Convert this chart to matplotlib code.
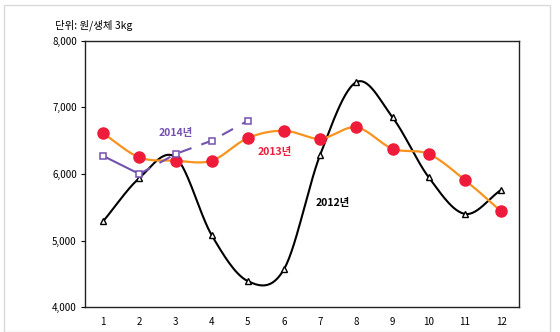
import numpy as np
import matplotlib.pyplot as plt
from matplotlib.patches import Rectangle

plt.rcParams['font.family'] = ['Noto Sans CJK KR', 'DejaVu Sans']

months = list(range(1, 13))
y2012 = [5290, 5940, 6250, 5080, 4390, 4570, 6290, 7380, 6850, 5950, 5400, 5760]
y2013 = [6610, 6250, 6200, 6200, 6540, 6650, 6530, 6700, 6380, 6300, 5910, 5440]
months_2014 = [1, 2, 3, 4, 5]
y2014 = [6270, 6000, 6300, 6500, 6800]
yticks = [4000, 5000, 6000, 7000, 8000]


# smoothed line like excel (catmull-rom through the points)
def smooth(x, y, n=30):
    x = np.asarray(x, float)
    y = np.asarray(y, float)
    px = np.concatenate([[2 * x[0] - x[1]], x, [2 * x[-1] - x[-2]]])
    py = np.concatenate([[2 * y[0] - y[1]], y, [2 * y[-1] - y[-2]]])
    xs, ys = [], []
    for i in range(1, len(px) - 2):
        t = np.linspace(0, 1, n)
        for p, out in ((px, xs), (py, ys)):
            p0, p1, p2, p3 = p[i - 1], p[i], p[i + 1], p[i + 2]
            out.extend(0.5 * (2 * p1 + (-p0 + p2) * t
                              + (2 * p0 - 5 * p1 + 4 * p2 - p3) * t ** 2
                              + (-p0 + 3 * p1 - 3 * p2 + p3) * t ** 3))
    return np.array(xs), np.array(ys)


fig = plt.figure(figsize=(5.6, 3.32), dpi=100)
fig.patches.append(Rectangle((0.008, 0.0), 0.975, 0.985, transform=fig.transFigure,
                             fill=False, edgecolor='#d9d9d9', linewidth=1.0))
ax = fig.add_axes([0.152, 0.075, 0.775, 0.802])

sx, sy = smooth(months, y2012)
ax.plot(sx, sy, color='black', linewidth=1.5, zorder=2)
ax.plot(months, y2012, linestyle='none', marker='^', markersize=5,
        markerfacecolor='white', markeredgecolor='black', markeredgewidth=1, zorder=3)

sx, sy = smooth(months, y2013)
ax.plot(sx, sy, color='#f7931e', linewidth=1.6, zorder=4)
ax.plot(months, y2013, linestyle='none', marker='o', markersize=8,
        color='#ee1c3a', zorder=5)

ax.plot(months_2014[:2], y2014[:2], color='#7451ae', linewidth=1.5, zorder=6)
ax.plot(months_2014[1:], y2014[1:], color='#7451ae', linewidth=1.5,
        dashes=(6, 5), zorder=6)
ax.plot(months_2014, y2014, linestyle='none', marker='s', markersize=5,
        markerfacecolor='white', markeredgecolor='#7451ae', markeredgewidth=1.1, zorder=7)

ax.text(3.0, 6620, '2014년', color='#7451ae', fontsize=7.5, fontweight='bold', ha='center', va='center')
ax.text(5.75, 6330, '2013년', color='#ee1c3a', fontsize=7.5, fontweight='bold', ha='center', va='center')
ax.text(7.35, 5560, '2012년', color='black', fontsize=7.5, fontweight='bold', ha='center', va='center')

ax.set_xlim(0.5, 12.5)
ax.set_ylim(4000, 8000)
ax.set_xticks(months)
ax.set_yticks(yticks)
ax.set_yticklabels([f'{v:,}' for v in yticks])
ax.tick_params(axis='x', length=0, pad=7, labelsize=7)
ax.tick_params(axis='y', length=3, direction='out', labelsize=7, pad=3)
for s in ax.spines.values():
    s.set_linewidth(1.0)
    s.set_color('#222222')

fig.text(0.098, 0.925, '단위: 원/생체 3kg', fontsize=7.5, ha='left', va='center')

fig.savefig('out.png', dpi=100)
